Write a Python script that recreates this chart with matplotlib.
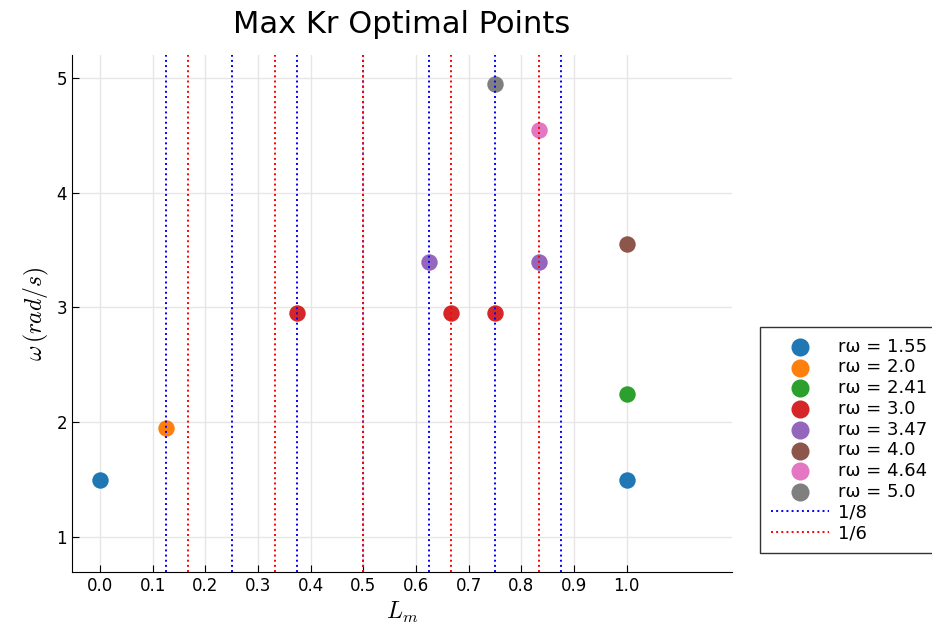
import matplotlib.pyplot as plt

plt.rcParams['mathtext.fontset'] = 'cm'

# optimal points per r_omega value
r_omega = ['1.55', '2.0', '2.41', '3.0', '3.47', '4.0', '4.64', '5.0']
lm_vals = [[0.0, 1.0], [0.125], [1.0], [0.375, 0.6667, 0.75],
           [0.625, 0.8333], [1.0], [0.8333], [0.75]]
w_vals = [[1.5, 1.5], [1.95], [2.25], [2.95, 2.95, 2.95],
          [3.4, 3.4], [3.55], [4.55], [4.95]]
colors = ['#1f77b4', '#ff7f0e', '#2ca02c', '#d62728',
          '#9467bd', '#8c564b', '#e377c2', '#7f7f7f']

eighths = [k / 8 for k in range(1, 8)]
sixths = [k / 6 for k in range(1, 6)]

fig = plt.figure(figsize=(9.32, 6.32), dpi=100)
ax = fig.add_axes([72 / 932, 60 / 632, 660 / 932, 517 / 632])

for r, xs, ys, c in zip(r_omega, lm_vals, w_vals, colors):
    ax.scatter(xs, ys, s=140, color=c, linewidths=0, zorder=3,
               label='rω = ' + r)

for i, x in enumerate(eighths):
    ax.axvline(x, color='blue', linestyle=':', linewidth=1.4, zorder=4,
               label='1/8' if i == 0 else None)
for i, x in enumerate(sixths):
    ax.axvline(x, color='red', linestyle=':', linewidth=1.4, zorder=4,
               label='1/6' if i == 0 else None)

ax.set_xlim(-0.053, 1.2)
ax.set_ylim(0.695, 5.2)
ax.set_xticks([round(0.1 * k, 1) for k in range(11)])
ax.set_yticks([1, 2, 3, 4, 5])
ax.tick_params(direction='in', labelsize=12, length=5)
ax.grid(True, color='#e6e6e6', linewidth=1)
ax.set_axisbelow(True)
for side in ['top', 'right']:
    ax.spines[side].set_visible(False)

ax.set_title('Max Kr Optimal Points', fontsize=22, pad=16)
ax.set_xlabel(r'$L_m$', fontsize=17)
ax.set_ylabel(r'$\omega\,(rad/s)$', fontsize=17)

leg = fig.legend(loc='lower left', bbox_to_anchor=(760 / 932, 79 / 632),
                 borderaxespad=0, fontsize=13, frameon=True, fancybox=False,
                 edgecolor='black', handlelength=3.2, handletextpad=0.5,
                 labelspacing=0.15, borderpad=0.6, markerscale=1.1)
leg.get_frame().set_linewidth(1.0)

fig.savefig('out.png', dpi=100)
